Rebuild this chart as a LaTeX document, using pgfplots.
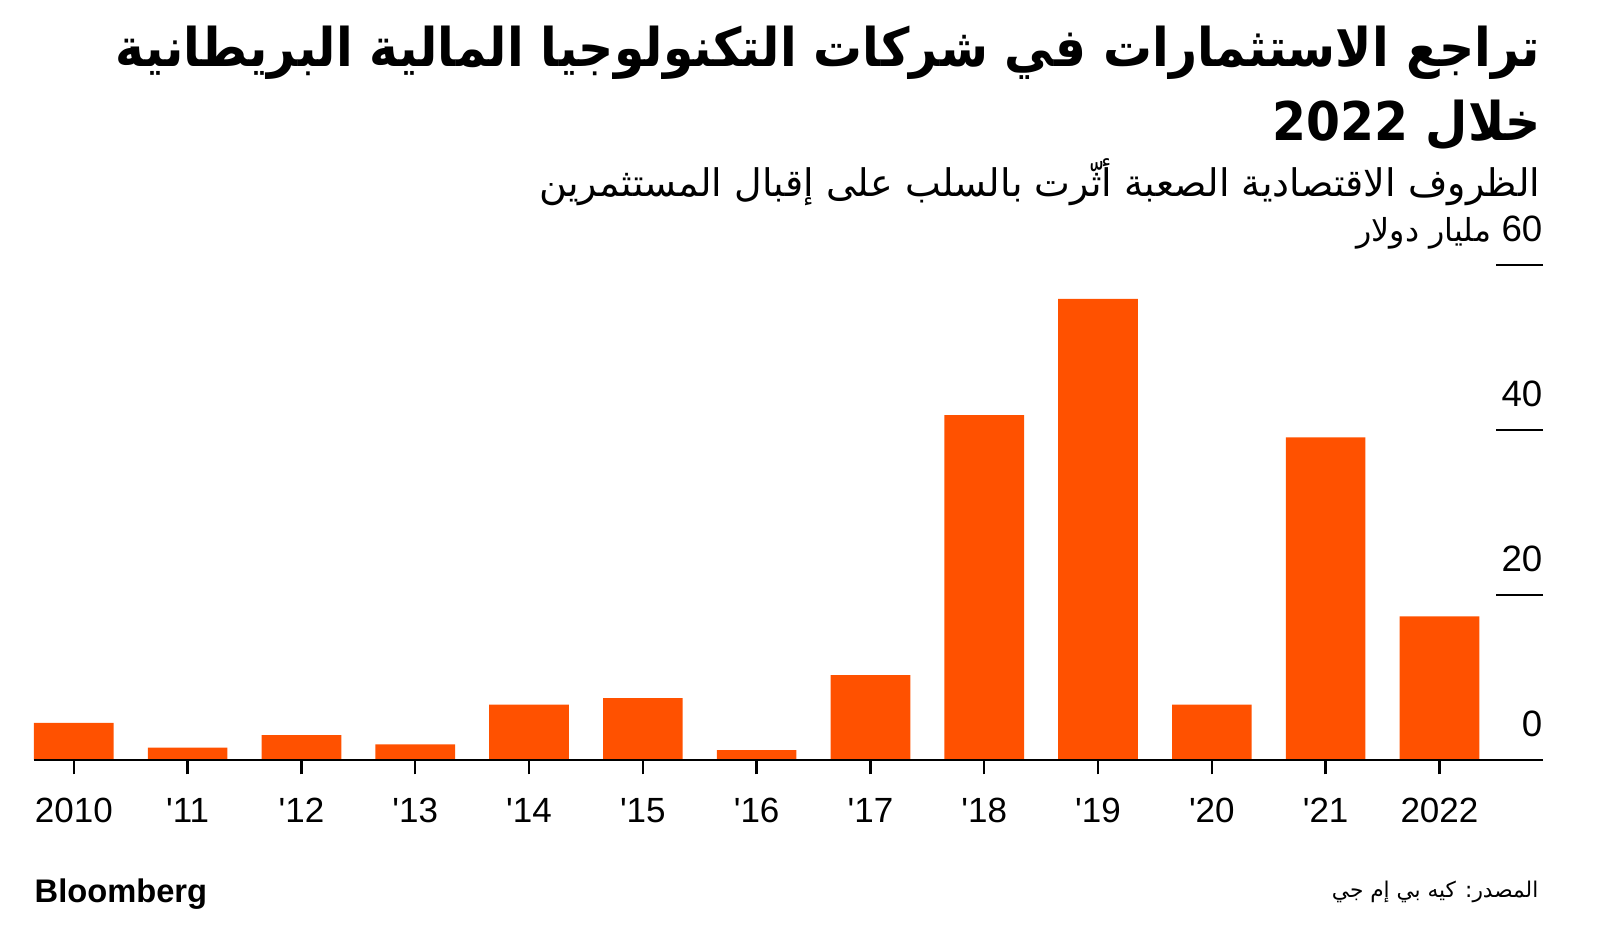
\documentclass[border=0pt]{standalone}
\usepackage{fontspec}
\setmainfont{Liberation Sans}
\newfontfamily\arabicfont[Script=Arabic]{DejaVu Sans}
\newfontfamily\arabictitle[Script=Arabic,FakeStretch=0.915]{DejaVu Sans}
\TeXXeTstate=1
\usepackage{pgfplots}
\pgfplotsset{compat=1.18}
\definecolor{barorange}{HTML}{FF5100}

\begin{document}
\begin{tikzpicture}[x=1pt,y=1pt]
\useasboundingbox (0,0) rectangle (480,278.1);
% bars and year axis
\begin{axis}[
  at={(10.2pt,50.1pt)}, anchor=south west,
  scale only axis, width=452.7pt, height=148.5pt,
  xmin=-0.35, xmax=12.91, ymin=0, ymax=60,
  axis x line*=bottom, axis y line=none,
  x axis line style={-, line width=0.7pt, black},
  xtick={0,...,12},
  xticklabels={2010,\textquotesingle 11,\textquotesingle 12,\textquotesingle 13,\textquotesingle 14,\textquotesingle 15,\textquotesingle 16,\textquotesingle 17,\textquotesingle 18,\textquotesingle 19,\textquotesingle 20,\textquotesingle 21,2022},
  tick align=outside, major tick length=4.3pt,
  xtick style={line width=0.7pt, black},
  xticklabel style={font=\fontsize{10.5}{12}\selectfont, anchor=north, inner sep=0pt, yshift=-7pt},
  axis on top, clip=false,
]
\addplot[ybar, bar width=23.9pt, fill=barorange, draw=none] coordinates {
  (0,4.5) (1,1.5) (2,3.0) (3,1.9) (4,6.7) (5,7.5) (6,1.2)
  (7,10.3) (8,41.8) (9,55.9) (10,6.7) (11,39.1) (12,17.4)};
\end{axis}
% value scale on the right
\begin{axis}[
  at={(10.2pt,50.1pt)}, anchor=south west,
  scale only axis, width=452.7pt, height=148.5pt,
  xmin=-0.35, xmax=12.91, ymin=0, ymax=60,
  hide x axis,
  axis y line*=right,
  y axis line style={draw=none},
  ytick={0,20,40,60},
  yticklabels={0,20,40,{{\arabicfont\fontsize{9.5}{11}\selectfont\beginR مليار دولار\endR}\ 60}},
  tick align=inside, major tick length=14.1pt,
  ytick style={line width=0.8pt, black},
  yticklabel style={anchor=base east, inner sep=0pt, yshift=6.9pt, font=\fontsize{11}{13}\selectfont},
]
\end{axis}
\node[anchor=east, inner sep=0pt, font=\arabictitle\bfseries\fontsize{16}{18}\selectfont] at (462.3,262.3)
  {\beginR تراجع الاستثمارات في شركات التكنولوجيا المالية البريطانية\endR};
\node[anchor=east, inner sep=0pt, font=\arabictitle\bfseries\fontsize{16}{18}\selectfont] at (462.3,240.6)
  {\beginR خلال \beginL 2022\endL\endR};
\node[anchor=east, inner sep=0pt, font=\arabicfont\fontsize{11.4}{13}\selectfont] at (462.3,223.5)
  {\beginR الظروف الاقتصادية الصعبة أثّرت بالسلب على إقبال المستثمرين\endR};
\node[anchor=east, inner sep=0pt, font=\arabicfont\fontsize{6.5}{8}\selectfont] at (461.7,10.5)
  {\beginR المصدر: كيه بي إم جي\endR};
\node[anchor=west, inner sep=0pt, font=\bfseries\fontsize{9.8}{12}\selectfont] at (10.2,9.9) {Bloomberg};
\end{tikzpicture}
\end{document}
